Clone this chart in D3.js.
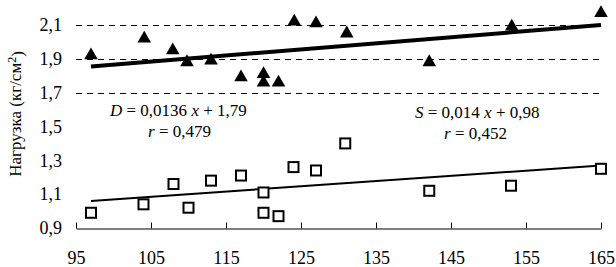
<!DOCTYPE html>
<html>
<head>
<meta charset="utf-8">
<script src="https://cdn.jsdelivr.net/npm/d3@7"></script>
<style>
  body { margin: 0; background: #fff; }
  text { font-family: "Liberation Serif", "Times New Roman", serif; fill: #000; }
</style>
</head>
<body>
<div id="chart-area"></div>
<script>
var xTicks = [95, 105, 115, 125, 135, 145, 155, 165];
var yTicks = [0.9, 1.1, 1.3, 1.5, 1.7, 1.9, 2.1];
var gridTicks = [1.7, 1.9, 2.1];

// D series (triangles)
var dX = [97, 104.1, 107.9, 109.8, 113, 117, 120, 120, 122, 124.1, 127, 131.1, 142.1, 153.1, 165];
var dY = [1.92, 2.02, 1.95, 1.88, 1.89, 1.79, 1.81, 1.76, 1.76, 2.12, 2.11, 2.05, 1.88, 2.09, 2.17];

// S series (squares)
var sX = [97, 104, 108, 110, 113, 117, 120, 120, 122, 124, 127, 130.9, 142.1, 153, 165];
var sY = [0.99, 1.04, 1.16, 1.02, 1.18, 1.21, 1.11, 0.99, 0.97, 1.26, 1.24, 1.40, 1.12, 1.15, 1.25];

// trend lines, end points
var dTrendX = [97, 165];
var dTrendY = [1.855, 2.10];
var sTrendX = [97, 165];
var sTrendY = [1.06, 1.27];

var width = 616;
var height = 267;

var xScale = d3.scaleLinear().domain([95, 165]).range([76, 601]);
var yScale = d3.scaleLinear().domain([0.9, 2.1]).range([228, 25]);

var svg = d3.select("#chart-area")
  .append("svg")
  .attr("width", width)
  .attr("height", height);

// dashed grid
svg.selectAll(".grid")
  .data(gridTicks)
  .enter()
  .append("line")
  .attr("class", "grid")
  .attr("x1", xScale(95))
  .attr("x2", xScale(165))
  .attr("y1", (d) => Math.round(yScale(d)) + 0.5)
  .attr("y2", (d) => Math.round(yScale(d)) + 0.5)
  .attr("stroke", "#000")
  .attr("stroke-width", 1)
  .attr("stroke-dasharray", "6,5");

// x axis
var xAxis = d3.axisBottom(xScale)
  .tickValues(xTicks)
  .tickSizeInner(-6)
  .tickSizeOuter(0)
  .tickPadding(23)
  .tickFormat((d) => d);

var xAxisGroup = svg.append("g")
  .attr("class", "x-axis")
  .attr("transform", "translate(0," + Math.round(yScale(0.9)) + ".5)")
  .call(xAxis);

xAxisGroup.select(".domain").attr("stroke", "#000");
xAxisGroup.selectAll(".tick line").attr("stroke", "#000");
xAxisGroup.selectAll("text")
  .style("font-family", "'Liberation Serif', serif")
  .style("font-size", "18px")
  .attr("fill", "#000");

// y tick labels (no axis line)
svg.selectAll(".ylab")
  .data(yTicks)
  .enter()
  .append("text")
  .attr("class", "ylab")
  .attr("x", 62)
  .attr("y", (d) => yScale(d))
  .attr("dy", "0.35em")
  .attr("text-anchor", "end")
  .style("font-size", "18px")
  .text((d) => d3.format(".1f")(d).replace(".", ","));

// y axis title
var yTitle = svg.append("text")
  .attr("transform", "translate(21," + 114 + ") rotate(-90)")
  .attr("text-anchor", "middle")
  .style("font-size", "17px");
yTitle.append("tspan").text("Нагрузка (кг/см");
yTitle.append("tspan").attr("dy", "-0.45em").style("font-size", "12px").text("2");
yTitle.append("tspan").attr("dy", "0.45em").text(")");

// trend lines
var line = d3.line()
  .x((d) => xScale(d[0]))
  .y((d) => yScale(d[1]));

svg.append("path")
  .datum(d3.zip(dTrendX, dTrendY))
  .attr("d", line)
  .attr("fill", "none")
  .attr("stroke", "#000")
  .attr("stroke-width", 4);

svg.append("path")
  .datum(d3.zip(sTrendX, sTrendY))
  .attr("d", line)
  .attr("fill", "none")
  .attr("stroke", "#000")
  .attr("stroke-width", 2);

// triangles
var tri = d3.symbol().type(d3.symbolTriangle).size(80);
svg.selectAll(".tri")
  .data(d3.zip(dX, dY))
  .enter()
  .append("path")
  .attr("class", "tri")
  .attr("d", tri)
  .attr("transform", (d) => "translate(" + xScale(d[0]) + "," + yScale(d[1]) + ")")
  .attr("fill", "#000");

// squares
svg.selectAll(".sq")
  .data(d3.zip(sX, sY))
  .enter()
  .append("rect")
  .attr("class", "sq")
  .attr("x", (d) => xScale(d[0]) - 5)
  .attr("y", (d) => yScale(d[1]) - 5)
  .attr("width", 10)
  .attr("height", 10)
  .attr("fill", "#fff")
  .attr("stroke", "#000")
  .attr("stroke-width", 2);

// equations
function eq(x, y, parts) {
  var t = svg.append("text").attr("x", x).attr("y", y).style("font-size", "17px");
  parts.forEach((p) => {
    t.append("tspan").style("font-style", p[1] ? "italic" : "normal").text(p[0]);
  });
}

eq(110, 116, [["D", true], [" = 0,0136 ", false], ["x", true], [" + 1,79", false]]);
eq(148, 137, [["r", true], [" = 0,479", false]]);
eq(415, 118, [["S", true], [" = 0,014 ", false], ["x", true], [" + 0,98", false]]);
eq(444, 139, [["r", true], [" = 0,452", false]]);
</script>
</body>
</html>
